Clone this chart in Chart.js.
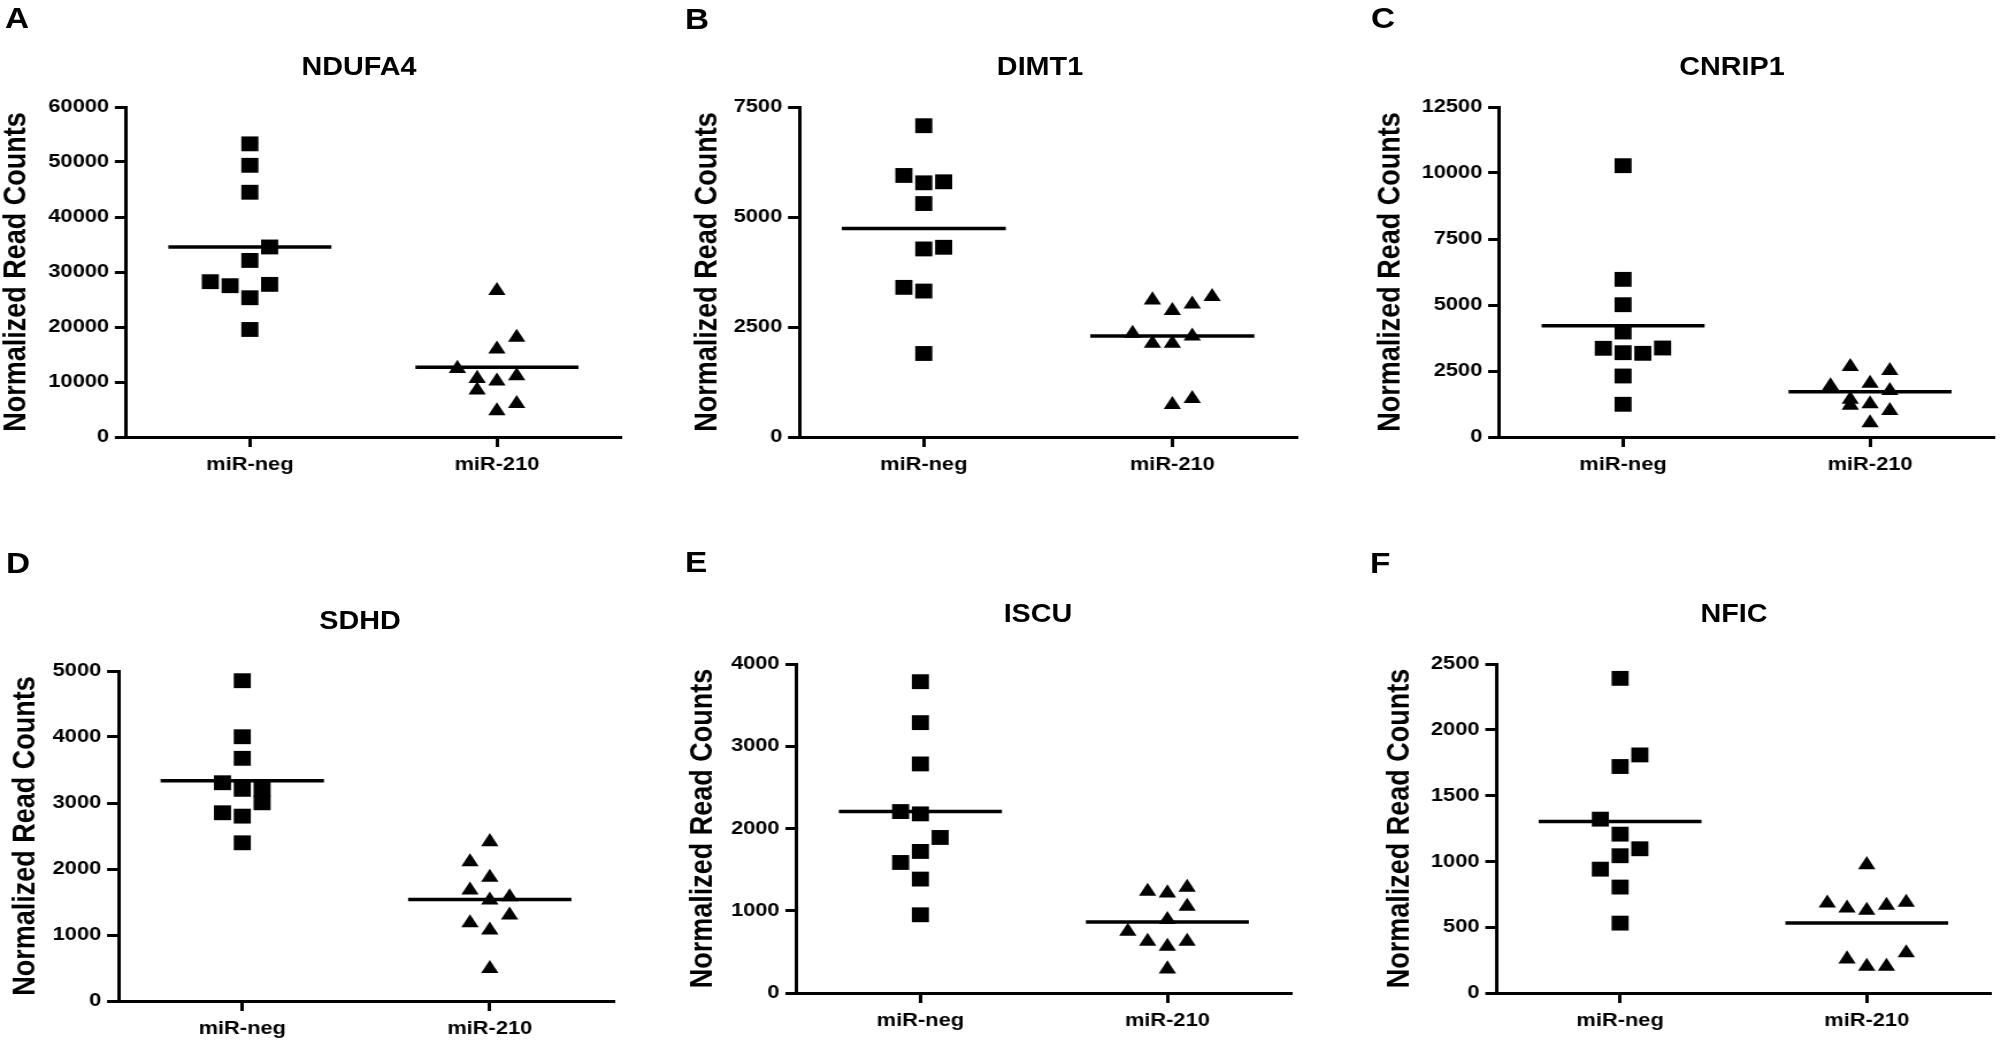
<!DOCTYPE html>
<html>
<head>
<meta charset="utf-8">
<script src="https://cdn.jsdelivr.net/npm/chart.js@4.4.1/dist/chart.umd.min.js"></script>
<style>
  html, body { margin: 0; padding: 0; background: #fff; overflow: hidden; }
  #wrap { position: absolute; left: 0; top: 0; height: 1045px; transform-origin: 0 0; }
  #wrap canvas { position: absolute; }
  .lbl { position: absolute; font-family: "Liberation Sans", Arial, sans-serif; font-weight: bold; color: #000; white-space: nowrap; }
</style>
</head>
<body>
<div id="wrap"></div>
<script>
const groups = ["miR-neg", "miR-210"];
const genes = ["NDUFA4", "DIMT1", "CNRIP1", "SDHD", "ISCU", "NFIC"];
const letters = ["A", "B", "C", "D", "E", "F"];
const yMax = [60000, 7500, 12500, 5000, 4000, 2500];
const yStep = [10000, 2500, 2500, 1000, 1000, 500];

// values read per point, with the column each point sits in (0 = centre of the group)
const ndufa4Neg = [53300, 49400, 44500, 34550, 32100, 28240, 27510, 27750, 25320, 19550];
const ndufa4NegCol = [0, 0, 0, 1, 0, -2, -1, 1, 0, 0];
const ndufa4Mir = [26600, 18100, 15970, 12450, 11110, 10630, 10140, 8500, 6070, 4740];
const ndufa4MirCol = [0, 1, 0, -2, 1, -1, 0, -1, 1, 0];

const dimt1Neg = [7075, 5944, 5777, 5800, 5306, 4274, 4312, 3401, 3317, 1898];
const dimt1NegCol = [0, -1, 0, 1, 0, 0, 1, -1, 0, 0];
const dimt1Mir = [3112, 2870, 3021, 3188, 2353, 2126, 2126, 2293, 736, 873];
const dimt1MirCol = [-1, 0, 1, 2, -2, -1, 0, 1, 0, 1];

const cnrip1Neg = [10277, 5972, 5011, 3977, 3360, 3193, 3170, 3371, 2311, 1239];
const cnrip1NegCol = [0, 0, 0, 0, -1, 0, 1, 2, 0, 0];
const cnrip1Mir = [2663, 2511, 1932, 2033, 1755, 1420, 1200, 1250, 1000, 530];
const cnrip1MirCol = [-1, 1, -2, 0, 1, -1, -1, 0, 1, 0];

const sdhdNeg = [4853, 4004, 3677, 3307, 3207, 3207, 3003, 2852, 2801, 2397];
const sdhdNegCol = [0, 0, 0, -1, 0, 1, 1, -1, 0, 0];
const sdhdMir = [2412, 2108, 1871, 1679, 1577, 1527, 1299, 1183, 1072, 490];
const sdhdMirCol = [0, -1, 0, -1, 1, 0, 1, -1, 0, 0];

const iscuNeg = [3785, 3287, 2785, 2206, 2178, 1891, 1721, 1587, 1385, 951];
const iscuNegCol = [0, 0, 0, -1, 0, 1, 0, -1, 0, 0];
const iscuMir = [1235, 1215, 1283, 1053, 891, 749, 628, 567, 628, 291];
const iscuMirCol = [-1, 0, 1, 1, 0, -2, -1, 0, 1, 0];

const nficNeg = [2391, 1809, 1721, 1321, 1207, 1096, 1043, 941, 805, 531];
const nficNegCol = [0, 1, 0, -1, 0, 1, 0, -1, 0, 0];
const nficMir = [974, 683, 645, 628, 665, 688, 258, 202, 202, 304];
const nficMirCol = [0, -2, -1, 0, 1, 2, -1, 0, 1, 2];

const meanNeg = [34550, 4737, 4216, 3337, 2206, 1303];
const meanMir = [12690, 2293, 1710, 1537, 862, 531];

const negSets = [[ndufa4Neg, ndufa4NegCol], [dimt1Neg, dimt1NegCol], [cnrip1Neg, cnrip1NegCol],
                 [sdhdNeg, sdhdNegCol], [iscuNeg, iscuNegCol], [nficNeg, nficNegCol]];
const mirSets = [[ndufa4Mir, ndufa4MirCol], [dimt1Mir, dimt1MirCol], [cnrip1Mir, cnrip1MirCol],
                 [sdhdMir, sdhdMirCol], [iscuMir, iscuMirCol], [nficMir, nficMirCol]];

// page geometry of each panel (axis box, y title centre, gene title centre, letter corner)
const SX = 1.15;
const boxes = [
  { axL: 126, axR: 621, axT: 107, axB: 437, yt: 16, tx: 359, ty: 66, lx: 5, ly: 8 },
  { axL: 799, axR: 1297, axT: 107, axB: 437, yt: 707, tx: 1040, ty: 66, lx: 685, ly: 9 },
  { axL: 1500, axR: 1995, axT: 107, axB: 437, yt: 1391, tx: 1732, ty: 66, lx: 1371, ly: 8 },
  { axL: 119, axR: 615, axT: 671, axB: 1001, yt: 26, tx: 360, ty: 620, lx: 6, ly: 553 },
  { axL: 797, axR: 1292, axT: 664, axB: 993, yt: 703, tx: 1038, ty: 613, lx: 685, ly: 552 },
  { axL: 1497, axR: 1991, axT: 664, axB: 993, yt: 1400, tx: 1734, ty: 613, lx: 1370, ly: 553 },
];
const JIT = 0.08;
const HALF = 0.33;
const FONT = '"Liberation Sans", Arial, sans-serif';

const wrap = document.getElementById("wrap");
wrap.style.width = 2005 / SX + "px";
wrap.style.transform = "scaleX(" + SX + ")";

function toPoints(vals, cols, cat) {
  return vals.map((v, k) => ({ x: cat + cols[k] * JIT, y: v }));
}

boxes.forEach((b, i) => {
  const yTitleSize = 27;
  const cL = b.yt / SX - (yTitleSize * 1.2) / 2 - 4;
  const cR = b.axR / SX + 10;
  const cT = b.axT - 20;
  const cB = b.axB + 50;
  const canvas = document.createElement("canvas");
  canvas.width = Math.round(cR - cL);
  canvas.height = cB - cT;
  canvas.style.left = cL + "px";
  canvas.style.top = cT + "px";
  wrap.appendChild(canvas);

  const letter = document.createElement("div");
  letter.className = "lbl";
  letter.textContent = letters[i];
  letter.style.fontSize = "29px";
  letter.style.lineHeight = "29px";
  letter.style.left = b.lx / SX + "px";
  letter.style.top = b.ly - 3.8 + "px";
  wrap.appendChild(letter);

  const title = document.createElement("div");
  title.className = "lbl";
  title.textContent = genes[i];
  title.style.fontSize = "25px";
  title.style.lineHeight = "25px";
  title.style.left = b.tx / SX + "px";
  title.style.top = b.ty - 12.2 + "px";
  title.style.transform = "translateX(-50%)";
  wrap.appendChild(title);

  const tickFont = { family: FONT, size: 19, weight: "bold" };
  const axisGrid = { drawOnChartArea: false, drawTicks: true, tickLength: 10, color: "#000", lineWidth: 3 };
  const axisBorder = { display: true, color: "#000", width: 3 };

  new Chart(canvas, {
    type: "scatter",
    data: {
      datasets: [
        {
          data: toPoints(negSets[i][0], negSets[i][1], 1),
          pointStyle: "rect",
          pointRadius: 10.5,
          backgroundColor: "#000",
          borderWidth: 0,
        },
        {
          data: toPoints(mirSets[i][0], mirSets[i][1], 2),
          pointStyle: "triangle",
          pointRadius: 8.7,
          backgroundColor: "#000",
          borderWidth: 0,
        },
        {
          data: [{ x: 1 - HALF, y: meanNeg[i] }, { x: 1 + HALF, y: meanNeg[i] }],
          showLine: true,
          borderColor: "#000",
          borderWidth: 3.5,
          pointRadius: 0,
        },
        {
          data: [{ x: 2 - HALF, y: meanMir[i] }, { x: 2 + HALF, y: meanMir[i] }],
          showLine: true,
          borderColor: "#000",
          borderWidth: 3.5,
          pointRadius: 0,
        },
      ],
    },
    options: {
      responsive: false,
      animation: false,
      events: [],
      clip: false,
      layout: { padding: { top: 20, right: 10, bottom: 0, left: 0 } },
      plugins: { legend: { display: false }, tooltip: { enabled: false } },
      scales: {
        x: {
          type: "linear",
          min: 0.5,
          max: 2.5,
          afterBuildTicks: (s) => { s.ticks = [{ value: 1 }, { value: 2 }]; },
          afterFit: (s) => { s.height = 50; },
          ticks: { callback: (v) => groups[v - 1], font: tickFont, color: "#000", padding: 6, maxRotation: 0 },
          grid: axisGrid,
          border: axisBorder,
        },
        y: {
          min: 0,
          max: yMax[i],
          afterFit: (s) => { s.width = b.axL / SX - cL; },
          ticks: { stepSize: yStep[i], callback: (v) => String(v), font: tickFont, color: "#000", padding: 5 },
          grid: axisGrid,
          border: axisBorder,
          title: {
            display: true,
            text: "Normalized Read Counts",
            font: { family: FONT, size: yTitleSize, weight: "bold" },
            color: "#000",
            padding: { top: 4, bottom: 0 },
          },
        },
      },
    },
  });
});
</script>
</body>
</html>
